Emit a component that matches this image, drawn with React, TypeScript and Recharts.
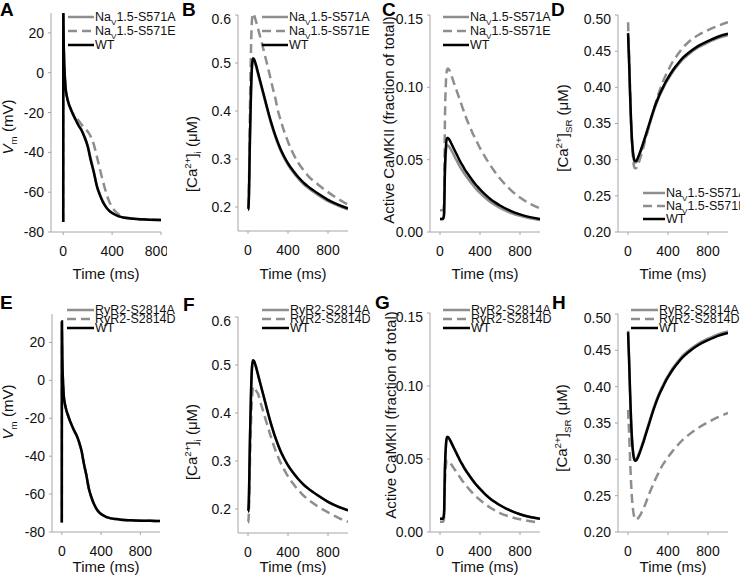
import { LineChart, Line, XAxis, YAxis } from 'recharts';
import type { ReactNode } from 'react';

// shared time base (ms)
const time = [0, 1, 2, 5, 10, 15, 20, 30, 40, 50, 60, 70, 80, 100, 125, 150, 175, 200, 225, 250, 275, 300, 325, 350, 375, 400, 450, 500, 550, 600, 700, 800, 900, 1000];
const timeTicks = [0, 400, 800];

// membrane potential (mV)
const vmWT = [-75, 31, 25, 12, 2, -4, -8, -12, -14.5, -16.5, -18, -19.5, -21, -23.5, -26.5, -29, -32.5, -37, -44, -50, -57, -61.5, -65, -67.5, -69.3, -70.5, -72, -72.8, -73.2, -73.5, -73.8, -74, -74.1, -74.2];
const vmNaA = [-75, 31, 25, 12, 2, -4, -8, -12, -14.5, -16.5, -18, -19.5, -20.7, -23, -26, -28.5, -32, -36.5, -43, -49.5, -56.5, -61, -64.7, -67.3, -69.2, -70.4, -72, -72.8, -73.2, -73.5, -73.8, -74, -74.1, -74.2];
const vmNaE = [-75, 31, 25, 12, 2, -4, -8, -12, -14.5, -16.5, -18, -19.5, -20.5, -22, -24, -26, -28, -29.5, -32, -36, -42, -48.5, -54.5, -60, -64.5, -67.5, -71, -72.5, -73.1, -73.5, -73.8, -74, -74.1, -74.2];
const vmRyrA = [-75, 31, 25, 12, 2, -4, -8, -12, -14.5, -16.5, -18, -19.5, -21, -23.5, -26.5, -29, -32.5, -37, -44, -50, -57, -61.5, -65, -67.5, -69.3, -70.5, -72, -72.8, -73.2, -73.5, -73.8, -74, -74.1, -74.2];
const vmRyrD = [-75, 31, 25, 12, 2, -4, -8, -12, -14.5, -16.5, -18, -19.5, -21, -23.5, -26.5, -29, -32.5, -37, -44, -50, -57, -61.5, -65, -67.5, -69.3, -70.5, -72, -72.8, -73.2, -73.5, -73.8, -74, -74.1, -74.2];

// cytosolic Ca (uM)
const caWT = [0.195, 0.195, 0.196, 0.2, 0.23, 0.29, 0.35, 0.44, 0.495, 0.51, 0.508, 0.503, 0.496, 0.48, 0.46, 0.44, 0.42, 0.4, 0.381, 0.364, 0.348, 0.334, 0.321, 0.31, 0.3, 0.291, 0.276, 0.263, 0.252, 0.243, 0.228, 0.215, 0.205, 0.197];
const caNaA = [0.194, 0.194, 0.195, 0.199, 0.228, 0.287, 0.347, 0.437, 0.492, 0.507, 0.505, 0.5, 0.493, 0.477, 0.457, 0.437, 0.417, 0.397, 0.378, 0.361, 0.345, 0.331, 0.318, 0.307, 0.297, 0.288, 0.273, 0.26, 0.249, 0.24, 0.225, 0.212, 0.203, 0.195];
const caNaE = [0.2, 0.2, 0.2, 0.205, 0.25, 0.33, 0.41, 0.53, 0.59, 0.603, 0.6, 0.594, 0.587, 0.572, 0.552, 0.532, 0.511, 0.49, 0.468, 0.446, 0.425, 0.4, 0.382, 0.365, 0.35, 0.336, 0.312, 0.293, 0.278, 0.265, 0.247, 0.231, 0.217, 0.205];
const caRyrA = [0.195, 0.195, 0.196, 0.2, 0.23, 0.29, 0.35, 0.44, 0.495, 0.51, 0.508, 0.503, 0.496, 0.48, 0.46, 0.44, 0.42, 0.4, 0.381, 0.364, 0.348, 0.334, 0.321, 0.31, 0.3, 0.291, 0.276, 0.263, 0.252, 0.243, 0.228, 0.215, 0.205, 0.197];
const caRyrD = [0.172, 0.172, 0.173, 0.178, 0.2, 0.25, 0.3, 0.38, 0.43, 0.452, 0.455, 0.452, 0.447, 0.44, 0.422, 0.405, 0.387, 0.37, 0.353, 0.337, 0.322, 0.309, 0.297, 0.287, 0.277, 0.268, 0.253, 0.24, 0.229, 0.22, 0.205, 0.193, 0.182, 0.173];

// active CaMKII (fraction of total)
const kWT = [0.009, 0.009, 0.009, 0.009, 0.009, 0.009, 0.009, 0.009, 0.012, 0.045, 0.06, 0.065, 0.065, 0.063, 0.0595, 0.056, 0.0525, 0.049, 0.046, 0.043, 0.0405, 0.038, 0.0356, 0.0334, 0.0314, 0.0295, 0.026, 0.023, 0.0205, 0.0183, 0.0148, 0.0122, 0.0103, 0.009];
const kNaA = [0.009, 0.009, 0.009, 0.009, 0.009, 0.009, 0.009, 0.009, 0.011, 0.042, 0.056, 0.06, 0.0598, 0.058, 0.055, 0.0515, 0.0483, 0.045, 0.0423, 0.0397, 0.0373, 0.035, 0.0328, 0.0307, 0.0288, 0.027, 0.0238, 0.021, 0.0187, 0.0167, 0.0135, 0.0112, 0.0095, 0.0083];
const kNaE = [0.015, 0.015, 0.015, 0.015, 0.015, 0.015, 0.015, 0.015, 0.02, 0.08, 0.105, 0.112, 0.113, 0.111, 0.106, 0.101, 0.096, 0.091, 0.086, 0.081, 0.0765, 0.0725, 0.0685, 0.065, 0.0615, 0.058, 0.052, 0.0465, 0.0415, 0.037, 0.0295, 0.0238, 0.0195, 0.0163];
const kRyrA = [0.009, 0.009, 0.009, 0.009, 0.009, 0.009, 0.009, 0.009, 0.012, 0.045, 0.06, 0.065, 0.065, 0.063, 0.0595, 0.056, 0.0525, 0.049, 0.046, 0.043, 0.0405, 0.038, 0.0356, 0.0334, 0.0314, 0.0295, 0.026, 0.023, 0.0205, 0.0183, 0.0148, 0.0122, 0.0103, 0.009];
const kRyrD = [0.007, 0.007, 0.007, 0.007, 0.007, 0.007, 0.007, 0.007, 0.009, 0.035, 0.046, 0.049, 0.049, 0.0475, 0.045, 0.0425, 0.04, 0.0375, 0.035, 0.0328, 0.0307, 0.0287, 0.0268, 0.025, 0.0234, 0.0219, 0.0192, 0.0168, 0.0148, 0.013, 0.0105, 0.0087, 0.0074, 0.0065];

// SR Ca (uM)
const srWT = [0.475, 0.474, 0.47, 0.458, 0.44, 0.418, 0.395, 0.355, 0.327, 0.31, 0.301, 0.298, 0.298, 0.303, 0.312, 0.322, 0.333, 0.344, 0.355, 0.366, 0.376, 0.385, 0.393, 0.4, 0.407, 0.413, 0.424, 0.433, 0.441, 0.447, 0.457, 0.464, 0.47, 0.474];
const srNaA = [0.473, 0.472, 0.468, 0.456, 0.438, 0.416, 0.393, 0.353, 0.325, 0.308, 0.299, 0.296, 0.296, 0.301, 0.31, 0.32, 0.331, 0.342, 0.353, 0.364, 0.374, 0.383, 0.391, 0.398, 0.405, 0.411, 0.422, 0.431, 0.439, 0.445, 0.455, 0.462, 0.468, 0.472];
const srNaE = [0.49, 0.489, 0.485, 0.47, 0.45, 0.425, 0.4, 0.355, 0.322, 0.302, 0.291, 0.288, 0.288, 0.293, 0.303, 0.315, 0.328, 0.341, 0.354, 0.366, 0.378, 0.389, 0.399, 0.408, 0.416, 0.423, 0.436, 0.446, 0.455, 0.462, 0.472, 0.479, 0.485, 0.49];
const srRyrA = [0.477, 0.476, 0.472, 0.46, 0.442, 0.42, 0.397, 0.357, 0.329, 0.312, 0.303, 0.3, 0.3, 0.305, 0.314, 0.324, 0.335, 0.346, 0.357, 0.368, 0.378, 0.387, 0.395, 0.402, 0.409, 0.415, 0.426, 0.435, 0.443, 0.449, 0.459, 0.466, 0.472, 0.476];
const srRyrD = [0.368, 0.367, 0.364, 0.355, 0.34, 0.322, 0.303, 0.27, 0.246, 0.231, 0.222, 0.218, 0.217, 0.219, 0.224, 0.231, 0.239, 0.248, 0.257, 0.265, 0.273, 0.28, 0.287, 0.293, 0.298, 0.303, 0.312, 0.32, 0.327, 0.333, 0.343, 0.351, 0.358, 0.364];

const vmTicks = [-80, -60, -40, -20, 0, 20];
const caTicks = [0.2, 0.3, 0.4, 0.5, 0.6];
const kTicks = [0, 0.05, 0.1, 0.15];
const srTicks = [0.2, 0.25, 0.3, 0.35, 0.4, 0.45, 0.5];

const GRAY = '#8e8e8e';
const AXIS = '#a6a6a6';
const FONT = '"Liberation Sans", Arial, sans-serif';

const naNames: ReactNode[] = [
  <>Na<sub style={{ fontSize: '0.65em' }}>V</sub>1.5-S571A</>,
  <>Na<sub style={{ fontSize: '0.65em' }}>V</sub>1.5-S571E</>,
  'WT',
];
const ryrNames: ReactNode[] = ['RyR2-S2814A', 'RyR2-S2814D', 'WT'];

const vmLabel = <><i>V</i><sub style={{ fontSize: '0.65em' }}>m</sub> (mV)</>;
const caLabel = <>[Ca<sup style={{ fontSize: '0.65em' }}>2+</sup>]<sub style={{ fontSize: '0.65em' }}>i</sub> (μM)</>;
const kLabel = 'Active CaMKII (fraction of total)';
const srLabel = <>[Ca<sup style={{ fontSize: '0.65em' }}>2+</sup>]<sub style={{ fontSize: '0.65em' }}>SR</sub> (μM)</>;

type Box = { x: number; y: number };

type PanelProps = {
  letter: string;
  plot: { x: number; y: number; w: number; h: number };
  xDomain: [number, number];
  yDomain: [number, number];
  yTicks: number[];
  digits: number;
  series: number[][];
  names: ReactNode[];
  legend: Box & { gap: number; lineW: number };
  yLabel: ReactNode;
  yLabelPos: Box;
  letterPos: Box;
  titleY: number;
};

const YW = 48;

const Panel = ({ letter, plot, xDomain, yDomain, yTicks, digits, series, names, legend, yLabel, yLabelPos, letterPos, titleY }: PanelProps) => {
  const data = time.map((t, i) => ({ t, a: series[0][i], b: series[1][i], wt: series[2][i] }));
  const tickStyle = { fontSize: 14, fill: '#111', fontFamily: FONT };
  return (
    <>
      <div style={{ position: 'absolute', left: plot.x - YW, top: plot.y - 4 }}>
        <LineChart width={YW + plot.w + 6} height={4 + plot.h + 40} data={data} margin={{ top: 4, right: 6, bottom: 10, left: 0 }}>
          <XAxis
            dataKey="t"
            type="number"
            domain={xDomain}
            ticks={timeTicks}
            allowDataOverflow
            height={30}
            stroke={AXIS}
            tickSize={3}
            tickMargin={11}
            tick={tickStyle}
          />
          <YAxis
            type="number"
            domain={yDomain}
            ticks={yTicks}
            allowDataOverflow
            width={YW}
            stroke={AXIS}
            tickSize={3}
            tickMargin={4}
            tick={tickStyle}
            tickFormatter={(v: number) => v.toFixed(digits)}
          />
          <Line dataKey="a" type="monotone" stroke={GRAY} strokeWidth={2.5} dot={false} activeDot={false} isAnimationActive={false} />
          <Line dataKey="b" type="monotone" stroke={GRAY} strokeWidth={2.5} strokeDasharray="9 5" dot={false} activeDot={false} isAnimationActive={false} />
          <Line dataKey="wt" type="monotone" stroke="#000" strokeWidth={2.5} dot={false} activeDot={false} isAnimationActive={false} />
        </LineChart>
      </div>

      <div style={{ position: 'absolute', left: letterPos.x, top: letterPos.y, fontSize: 19, fontWeight: 'bold', lineHeight: '19px' }}>{letter}</div>

      <div
        style={{
          position: 'absolute',
          left: yLabelPos.x,
          top: yLabelPos.y,
          transform: 'translate(-50%, -50%) rotate(-90deg)',
          whiteSpace: 'nowrap',
          fontSize: 15,
          lineHeight: '15px',
          color: '#111',
        }}
      >
        {yLabel}
      </div>

      <div
        style={{
          position: 'absolute',
          left: plot.x + plot.w / 2,
          top: titleY,
          transform: 'translate(-50%, -50%)',
          whiteSpace: 'nowrap',
          fontSize: 15,
          lineHeight: '15px',
          color: '#111',
        }}
      >
        Time (ms)
      </div>

      {names.map((n, i) => {
        const cy = legend.y + i * legend.gap;
        return (
          <div key={i}>
            <svg width={legend.lineW} height={6} style={{ position: 'absolute', left: legend.x, top: cy - 3, display: 'block' }}>
              <line
                x1={0}
                y1={3}
                x2={legend.lineW}
                y2={3}
                stroke={i === 2 ? '#000' : GRAY}
                strokeWidth={2.5}
                strokeDasharray={i === 1 ? '9 5' : undefined}
              />
            </svg>
            <div
              style={{
                position: 'absolute',
                left: legend.x + legend.lineW + 1,
                top: cy - 7,
                whiteSpace: 'nowrap',
                fontSize: 12.5,
                lineHeight: '14px',
                color: '#111',
              }}
            >
              {n}
            </div>
          </div>
        );
      })}
    </>
  );
};

const topLegend = { gap: 14, lineW: 26 };
const botLegend = { gap: 9, lineW: 27 };

export default function App() {
  return (
    <div style={{ position: 'absolute', left: 0, top: 0, width: 740, height: 576, background: '#fff', fontFamily: FONT, overflow: 'hidden' }}>
      <Panel
        letter="A"
        plot={{ x: 51, y: 13, w: 110, h: 219 }}
        xDomain={[-100, 800]}
        yDomain={[-80, 30]}
        yTicks={vmTicks}
        digits={0}
        series={[vmNaA, vmNaE, vmWT]}
        names={naNames}
        legend={{ x: 68, y: 17, ...topLegend }}
        yLabel={vmLabel}
        yLabelPos={{ x: 10, y: 127 }}
        letterPos={{ x: 0, y: 0 }}
        titleY={273}
      />
      <Panel
        letter="B"
        plot={{ x: 238, y: 15, w: 110, h: 216 }}
        xDomain={[-100, 1000]}
        yDomain={[0.15, 0.6]}
        yTicks={caTicks}
        digits={1}
        series={[caNaA, caNaE, caWT]}
        names={naNames}
        legend={{ x: 262, y: 17, ...topLegend }}
        yLabel={caLabel}
        yLabelPos={{ x: 192, y: 154 }}
        letterPos={{ x: 182, y: 0 }}
        titleY={273}
      />
      <Panel
        letter="C"
        plot={{ x: 430, y: 15, w: 110, h: 217 }}
        xDomain={[-100, 1000]}
        yDomain={[0, 0.15]}
        yTicks={kTicks}
        digits={2}
        series={[kNaA, kNaE, kWT]}
        names={naNames}
        legend={{ x: 443, y: 17, ...topLegend }}
        yLabel={kLabel}
        yLabelPos={{ x: 388, y: 120 }}
        letterPos={{ x: 382, y: 0 }}
        titleY={273}
      />
      <Panel
        letter="D"
        plot={{ x: 618, y: 15, w: 110, h: 217 }}
        xDomain={[-100, 1000]}
        yDomain={[0.2, 0.5]}
        yTicks={srTicks}
        digits={2}
        series={[srNaA, srNaE, srWT]}
        names={naNames}
        legend={{ x: 643, y: 193, gap: 13, lineW: 22 }}
        yLabel={srLabel}
        yLabelPos={{ x: 563, y: 128 }}
        letterPos={{ x: 551, y: 0 }}
        titleY={273}
      />
      <Panel
        letter="E"
        plot={{ x: 52, y: 314, w: 108, h: 218 }}
        xDomain={[-100, 1000]}
        yDomain={[-80, 35]}
        yTicks={vmTicks}
        digits={0}
        series={[vmRyrA, vmRyrD, vmWT]}
        names={ryrNames}
        legend={{ x: 67, y: 310, ...botLegend }}
        yLabel={vmLabel}
        yLabelPos={{ x: 10, y: 412 }}
        letterPos={{ x: 0, y: 293 }}
        titleY={566}
      />
      <Panel
        letter="F"
        plot={{ x: 238, y: 317, w: 110, h: 216 }}
        xDomain={[-100, 1000]}
        yDomain={[0.15, 0.6]}
        yTicks={caTicks}
        digits={1}
        series={[caRyrA, caRyrD, caWT]}
        names={ryrNames}
        legend={{ x: 262, y: 310, ...botLegend }}
        yLabel={caLabel}
        yLabelPos={{ x: 192, y: 442 }}
        letterPos={{ x: 183, y: 295 }}
        titleY={566}
      />
      <Panel
        letter="G"
        plot={{ x: 430, y: 313, w: 110, h: 219 }}
        xDomain={[-100, 1000]}
        yDomain={[0, 0.15]}
        yTicks={kTicks}
        digits={2}
        series={[kRyrA, kRyrD, kWT]}
        names={ryrNames}
        legend={{ x: 443, y: 310, ...botLegend }}
        yLabel={kLabel}
        yLabelPos={{ x: 390, y: 415 }}
        letterPos={{ x: 375, y: 293 }}
        titleY={566}
      />
      <Panel
        letter="H"
        plot={{ x: 618, y: 314, w: 110, h: 218 }}
        xDomain={[-100, 1000]}
        yDomain={[0.2, 0.5]}
        yTicks={srTicks}
        digits={2}
        series={[srRyrA, srRyrD, srWT]}
        names={ryrNames}
        legend={{ x: 631, y: 310, ...botLegend }}
        yLabel={srLabel}
        yLabelPos={{ x: 562, y: 428 }}
        letterPos={{ x: 552, y: 293 }}
        titleY={566}
      />
    </div>
  );
}
